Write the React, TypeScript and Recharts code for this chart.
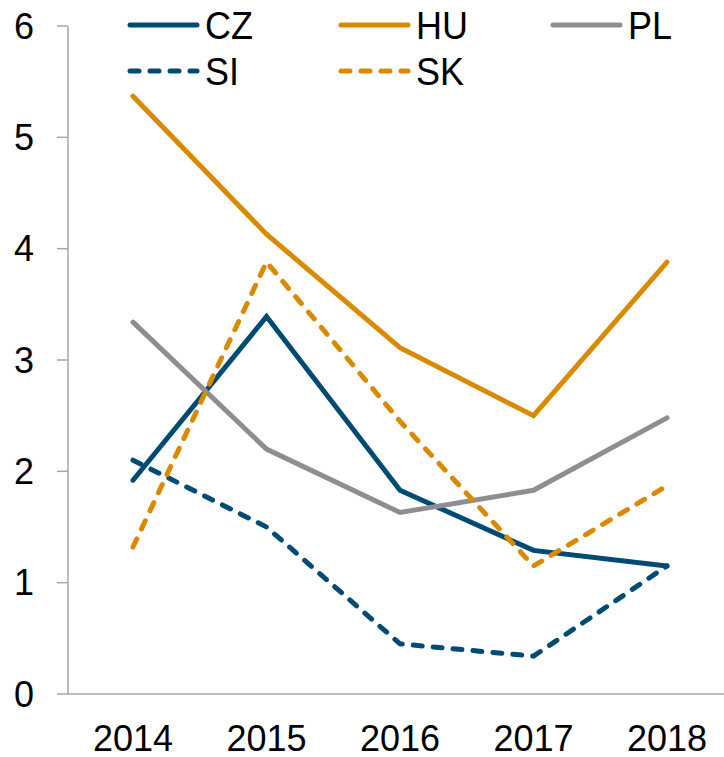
import React from 'react';
import { LineChart, Line, XAxis, YAxis } from 'recharts';

const years = ['2014', '2015', '2016', '2017', '2018'];
const cz = [1.92, 3.39, 1.83, 1.29, 1.15];
const hu = [5.37, 4.13, 3.11, 2.5, 3.88];
const pl = [3.34, 2.2, 1.63, 1.83, 2.48];
const si = [2.1, 1.5, 0.45, 0.34, 1.15];
const sk = [1.32, 3.88, 2.45, 1.15, 1.87];
const yTicks = [0, 1, 2, 3, 4, 5, 6];

const BLUE = '#004b73';
const ORANGE = '#da8a00';
const GREY = '#8e8d92';
const AXIS = '#a6a6a6';
const FONT = '"Liberation Sans", Arial, sans-serif';

const series = [
  { key: 'CZ', values: cz, color: BLUE, dashed: false },
  { key: 'HU', values: hu, color: ORANGE, dashed: false },
  { key: 'PL', values: pl, color: GREY, dashed: false },
  { key: 'SI', values: si, color: BLUE, dashed: true },
  { key: 'SK', values: sk, color: ORANGE, dashed: true },
];

const data = years.map((year, i) => {
  const row: Record<string, string | number> = { year };
  series.forEach((s) => {
    row[s.key] = s.values[i];
  });
  return row;
});

const legendCols = [128, 339, 551];
const legendRows = [25, 71];

function LegendOverlay() {
  return (
    <svg
      width={724}
      height={100}
      style={{ position: 'absolute', left: 0, top: 0, pointerEvents: 'none' }}
    >
      {series.map((s, i) => {
        const x = legendCols[i % 3];
        const y = legendRows[Math.floor(i / 3)];
        return (
          <g key={s.key}>
            <line
              x1={x + 2}
              x2={x + 69}
              y1={y}
              y2={y}
              stroke={s.color}
              strokeWidth={5}
              strokeLinecap="round"
              strokeDasharray={s.dashed ? '9 11' : undefined}
            />
            <text
              transform={`translate(${x + 77} ${y + 14}) scale(1 1.1)`}
              x={0}
              y={0}
              fontSize={36}
              fontFamily={FONT}
              fill="#000"
            >
              {s.key}
            </text>
          </g>
        );
      })}
    </svg>
  );
}

export default function App() {
  return (
    <div style={{ position: 'absolute', left: 0, top: 0, width: 724, height: 757, background: '#fff' }}>
      <LineChart
        width={724}
        height={757}
        data={data}
        margin={{ top: 26, right: 0, bottom: 0, left: 0 }}
      >
        <XAxis
          dataKey="year"
          height={63}
          padding={{ left: 65, right: 57 }}
          axisLine={{ stroke: AXIS, strokeWidth: 1.5 }}
          tickLine={false}
          tickSize={0}
          tickMargin={31}
          tick={{ fontSize: 36, fill: '#000', fontFamily: FONT }}
          interval={0}
        />
        <YAxis
          width={68}
          domain={[0, 6]}
          ticks={yTicks}
          interval={0}
          axisLine={{ stroke: AXIS, strokeWidth: 1.5 }}
          tickLine={{ stroke: AXIS, strokeWidth: 1.5 }}
          tickSize={11}
          tickMargin={23}
          tick={{ fontSize: 36, fill: '#000', fontFamily: FONT }}
        />
        {series.map((s) => (
          <Line
            key={s.key}
            dataKey={s.key}
            type="linear"
            stroke={s.color}
            strokeWidth={5}
            strokeDasharray={s.dashed ? '9 11' : undefined}
            strokeLinecap="round"
            dot={false}
            activeDot={false}
            isAnimationActive={false}
          />
        ))}
      </LineChart>
      <LegendOverlay />
    </div>
  );
}
